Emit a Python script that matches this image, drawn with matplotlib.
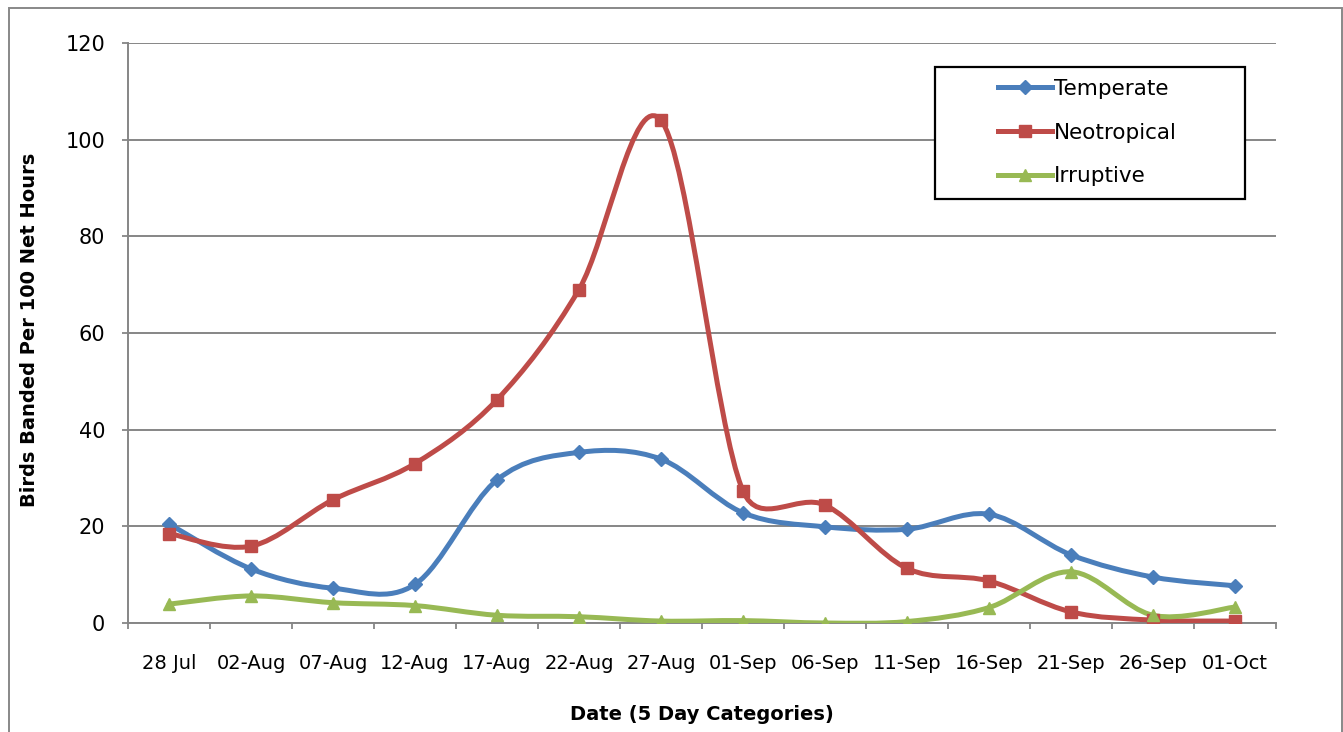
import numpy as np
import matplotlib.pyplot as plt
from matplotlib.path import Path
from matplotlib.patches import PathPatch, Rectangle
from matplotlib.lines import Line2D

dates = ['28 Jul', '02-Aug', '07-Aug', '12-Aug', '17-Aug', '22-Aug', '27-Aug',
         '01-Sep', '06-Sep', '11-Sep', '16-Sep', '21-Sep', '26-Sep', '01-Oct']
temperate = [20.5, 11.2, 7.2, 8.0, 29.6, 35.3, 33.9, 22.8, 19.9, 19.4, 22.5, 14.1, 9.5, 7.7]
neotropical = [18.5, 15.9, 25.5, 33.0, 46.2, 69.0, 104.0, 27.3, 24.4, 11.3, 8.7, 2.3, 0.6, 0.4]
irruptive = [3.9, 5.6, 4.2, 3.6, 1.6, 1.3, 0.4, 0.5, 0.0, 0.3, 3.2, 10.6, 1.6, 3.3]

series = [
    ('Temperate', temperate, '#4A7EBB', 'D', 7.5),
    ('Neotropical', neotropical, '#BE4B48', 's', 8.5),
    ('Irruptive', irruptive, '#98B954', '^', 9),
]

GRID = '#868686'
W, H = 1343, 732


def smooth_path(x, y, sx, sy):
    # bezier "smoothed line": 1/6 tangents, capped at half the segment length
    # (distances measured in pixels, sx/sy = pixels per data unit)
    n = len(x)
    px, py = x * sx, y * sy

    def dist(a, b):
        return np.hypot(px[a] - px[b], py[a] - py[b])

    verts = [(x[0], y[0])]
    codes = [Path.MOVETO]
    for i in range(n - 1):
        p = max(i - 1, 0)
        q = min(i + 2, n - 1)
        seg = dist(i, i + 1)
        d0, d1 = dist(p, i + 1), dist(i, q)
        f1 = 1 / 6 if d0 / 6 < seg / 2 else seg / (2 * d0)
        f2 = 1 / 6 if d1 / 6 < seg / 2 else seg / (2 * d1)
        c1 = (x[i] + (x[i + 1] - x[p]) * f1, y[i] + (y[i + 1] - y[p]) * f1)
        c2 = (x[i + 1] - (x[q] - x[i]) * f2, y[i + 1] - (y[q] - y[i]) * f2)
        verts += [c1, c2, (x[i + 1], y[i + 1])]
        codes += [Path.CURVE4] * 3
    return Path(verts, codes)


fig = plt.figure(figsize=(W / 100, H / 100), dpi=100)
ax = fig.add_axes([128 / W, (H - 623) / H, (1276 - 128) / W, (623 - 43) / H])

ax.set_xlim(-0.5, len(dates) - 0.5)
ax.set_ylim(0, 120)
bb = ax.get_window_extent()
sx = bb.width / len(dates)
sy = bb.height / 120

x = np.arange(len(dates), dtype=float)
for name, vals, color, mk, ms in series:
    ax.add_patch(PathPatch(smooth_path(x, np.array(vals, dtype=float), sx, sy), fill=False,
                           edgecolor=color, lw=3.6, capstyle='round', joinstyle='round', zorder=3))
    ax.plot(x, vals, linestyle='none', marker=mk, ms=ms, color=color, zorder=4)

ax.set_yticks(np.arange(0, 121, 20))
ax.set_xticks(x)
ax.set_xticklabels(dates)
ax.set_xticks(np.arange(-0.5, len(dates), 1), minor=True)
ax.tick_params(axis='x', which='major', length=0, pad=22, labelsize=14)
ax.tick_params(axis='x', which='minor', length=4.5, width=1.3, color=GRID, direction='out')
ax.tick_params(axis='y', length=4.5, width=1.3, color=GRID, pad=12, labelsize=15)
ax.yaxis.grid(True, color=GRID, lw=1.4)
ax.set_axisbelow(True)
for s in ['top', 'right']:
    ax.spines[s].set_visible(False)
for s in ['left', 'bottom']:
    ax.spines[s].set_color(GRID)
    ax.spines[s].set_linewidth(1.4)

fig.text(30 / W, 1 - 330 / H, 'Birds Banded Per 100 Net Hours', rotation=90,
         ha='center', va='center', fontsize=14, fontweight='bold')
fig.text(702 / W, 1 - 714 / H, 'Date (5 Day Categories)',
         ha='center', va='center', fontsize=14, fontweight='bold')

# outer chart border
fig.add_artist(Rectangle((9 / W, -0.05), (1342 - 9) / W, 1.05 - 8 / H,
                         transform=fig.transFigure, fill=False, edgecolor='#888888', lw=1.4))

# legend box
fig.add_artist(Rectangle((935 / W, 1 - 199 / H), (1245 - 935) / W, (199 - 67) / H,
                         transform=fig.transFigure, facecolor='white', edgecolor='black',
                         lw=1.6, zorder=5))
handles = [Line2D([], [], color=c, lw=3.6, marker=m, ms=ms) for _, _, c, m, ms in series]
leg = fig.legend(handles, [s[0] for s in series], loc='upper left',
                 bbox_to_anchor=(998 / W, 1 - 79 / H), bbox_transform=fig.transFigure,
                 frameon=False, fontsize=15.5, borderpad=0, borderaxespad=0,
                 handlelength=2.5, handletextpad=0.1, labelspacing=1.1)
leg.set_zorder(6)

fig.savefig('out.png', dpi=100)
